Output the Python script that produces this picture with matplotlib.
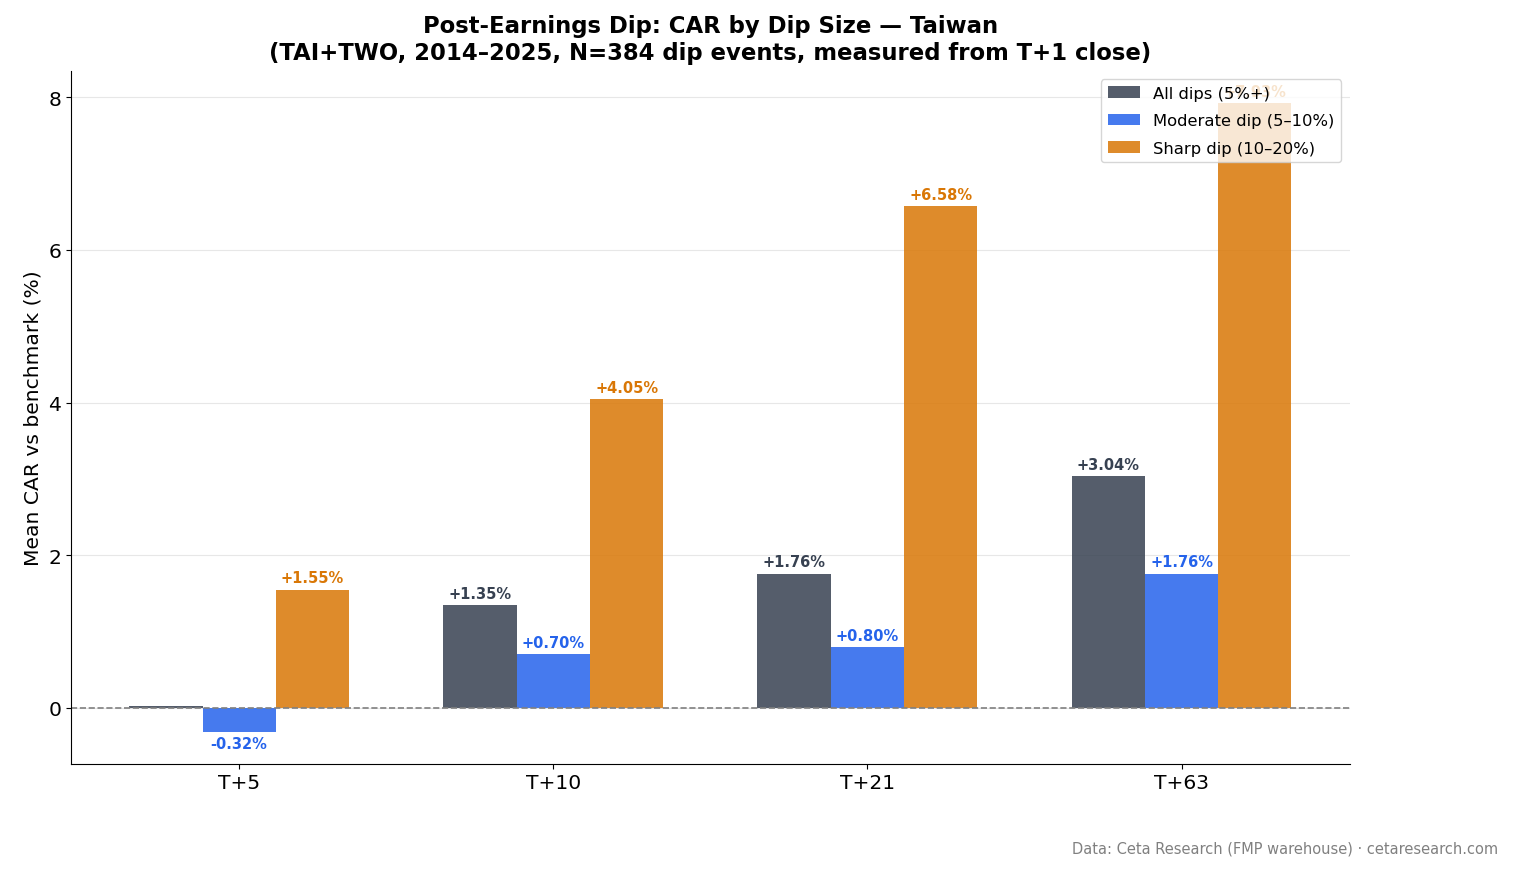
import numpy as np
import matplotlib
matplotlib.use('Agg')
import matplotlib.pyplot as plt

horizons = ["T+5", "T+10", "T+21", "T+63"]
all_dips = [0.03, 1.35, 1.76, 3.04]
moderate = [-0.32, 0.70, 0.80, 1.76]
sharp = [1.55, 4.05, 6.58, 7.93]

series = [
    ("All dips (5%+)", all_dips, "#374151"),
    ("Moderate dip (5–10%)", moderate, "#2563eb"),
    ("Sharp dip (10–20%)", sharp, "#d97706"),
]

fig, ax = plt.subplots(figsize=(15.13, 8.7), dpi=100)
fig.subplots_adjust(left=0.047, right=0.892, top=0.917, bottom=0.121)

x = np.arange(len(horizons))
w = 0.7 / 3

for i, (name, vals, col) in enumerate(series):
    bars = ax.bar(x + (i - 1) * w, vals, w, color=col, alpha=0.85, label=name)
    for b, v in zip(bars, vals):
        if abs(v) < 0.05:
            continue
        if v >= 0:
            ax.annotate(f"{v:+.2f}%", (b.get_x() + b.get_width() / 2, v),
                        xytext=(0, 3), textcoords="offset points",
                        ha="center", va="bottom", fontsize=10.5,
                        fontweight="bold", color=col)
        else:
            ax.annotate(f"{v:+.2f}%", (b.get_x() + b.get_width() / 2, v),
                        xytext=(0, -3), textcoords="offset points",
                        ha="center", va="top", fontsize=10.5,
                        fontweight="bold", color=col)

ax.axhline(0, color="gray", linestyle="--", linewidth=1.2)
ax.set_xticks(x)
ax.set_xticklabels(horizons, fontsize=14.6)
ax.tick_params(axis="y", labelsize=14.6)
ax.set_ylabel("Mean CAR vs benchmark (%)", fontsize=14.6)
ax.set_title("Post-Earnings Dip: CAR by Dip Size — Taiwan\n"
             "(TAI+TWO, 2014–2025, N=384 dip events, measured from T+1 close)",
             fontsize=16.4, fontweight="bold", pad=9)
ax.grid(axis="y", alpha=0.3)
ax.set_axisbelow(True)
ax.spines["top"].set_visible(False)
ax.spines["right"].set_visible(False)
ax.legend(loc="upper right", fontsize=11.8, labelspacing=0.75)

fig.text(0.99, 0.016, "Data: Ceta Research (FMP warehouse) · cetaresearch.com",
         ha="right", va="bottom", fontsize=10.5, color="gray")

plt.savefig("out.png", dpi=100)
